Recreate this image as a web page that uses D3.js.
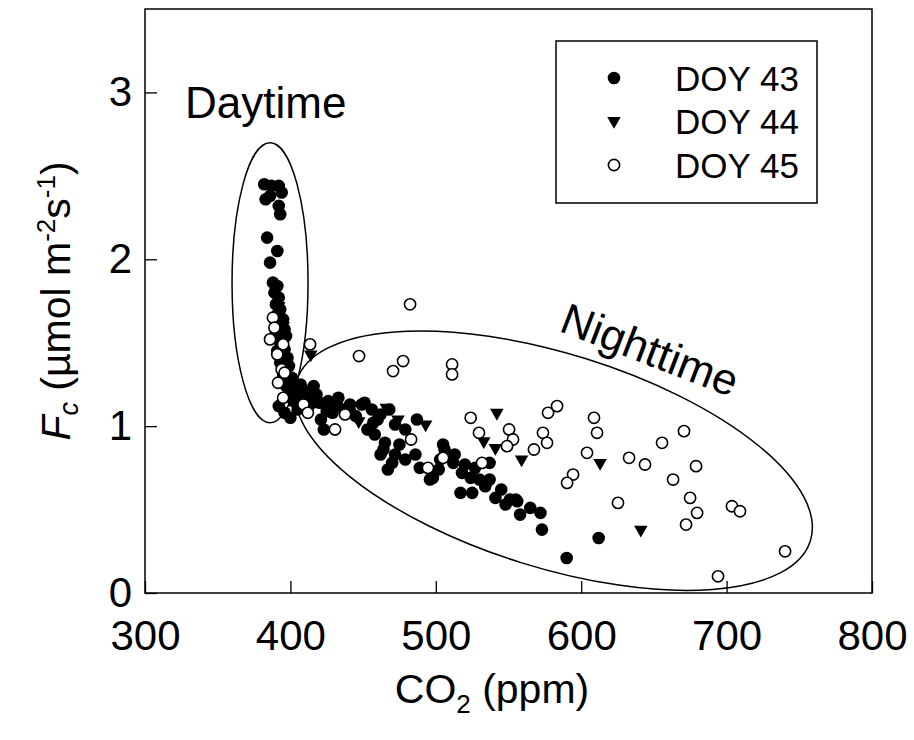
<!DOCTYPE html>
<html>
<head>
<meta charset="utf-8">
<script src="https://cdn.jsdelivr.net/npm/d3@7"></script>
<style>
  body { margin: 0; background: #fff; }
  text { font-family: "Liberation Sans", Arial, sans-serif; fill: #000; }
</style>
</head>
<body>
<svg id="chart" width="914" height="740"></svg>
<script>
// CO2 concentration (ppm) vs. CO2 flux Fc (µmol m-2 s-1), one array per day of year
const doy43 = [
  [382,2.45],[387,2.44],[392,2.44],[394,2.40],[383,2.36],[386,2.38],[392,2.32],[393,2.27],
  [384,2.13],[391,2.05],[386,1.98],[388,1.86],[391,1.84],
  [389,1.80],[392,1.77],[390,1.73],[393,1.70],[391,1.67],[395,1.64],[392,1.61],[396,1.58],
  [390,1.56],[397,1.54],[393,1.50],[396,1.46],[391,1.45],[398,1.41],[393,1.38],[399,1.36],
  [395,1.31],[401,1.29],[397,1.24],[403,1.23],[399,1.20],[405,1.18],[402,1.15],[407,1.25],
  [410,1.21],[413,1.17],[408,1.13],[412,1.11],[416,1.24],[418,1.19],[420,1.14],[421,1.04],
  [423,0.98],[425,1.09],[415,1.14],[392,1.12],[396,1.08],[400,1.05],[405,1.10],
  [426,1.15],[432,1.13],[429,1.08],[437,1.10],[441,1.09],[445,1.06],[449,1.13],[453,0.98],
  [457,1.02],[460,1.04],[465,0.90],[464,0.86],[470,0.78],[487,1.04],[489,0.75],[503,0.80],
  [498,0.69],[506,0.86],[505,0.89],[512,0.78],[518,0.72],[527,0.75],[537,0.78],[530,0.68],
  [537,0.68],[517,0.60],[525,0.60],[541,0.57],[551,0.56],[545,0.62],[534,0.64],[556,0.55],
  [565,0.51],[572,0.48],[573,0.38],[590,0.21],[612,0.33],
  [427,1.14],[433,1.17],[441,1.13],[451,1.14],[456,1.10],[462,1.07],[468,1.10],[472,1.01],
  [479,0.98],[458,0.95],[462,0.83],[467,0.74],[472,0.83],[475,0.89],[479,0.80],[486,0.83],
  [496,0.68],[502,0.74],[513,0.83],[520,0.77],[524,0.69],[534,0.65],[548,0.53],[555,0.56],
  [558,0.47]
];
const doy44 = [
  [414,1.43],[392,1.72],[395,1.60],[398,1.30],[430,1.12],[466,1.11],[474,1.04],[493,1.01],
  [447,1.03],[542,1.08],[541,0.87],[533,0.91],[559,0.80],[613,0.78],[641,0.38]
];
const doy45 = [
  [388,1.65],[389,1.59],[386,1.52],[395,1.49],[391,1.43],[394,1.34],[396,1.32],[391.5,1.26],
  [395,1.17],[409,1.13],[412,1.08],[413.5,1.49],
  [437.6,1.07],[430.7,0.98],[483,0.92],[494.6,0.75],[505,0.81],[531.8,0.78],
  [482.3,1.73],[447.2,1.42],[477.5,1.39],[470.6,1.33],[511.2,1.37],[511.2,1.31],
  [524,1.05],[529.7,0.96],[550.4,0.98],[553.1,0.92],[549,0.88],[573.7,0.96],[576.5,0.90],
  [567.5,0.86],[577.2,1.08],[583.4,1.12],[608.8,1.05],[610.9,0.96],[604,0.84],[594.4,0.71],
  [590.3,0.66],[632.9,0.81],[643.9,0.77],[670.7,0.97],[655.6,0.90],[679,0.76],[663.2,0.68],
  [625.3,0.54],[674.9,0.57],[703.7,0.52],[709.2,0.49],[679.7,0.48],[672.1,0.41],[740.2,0.25],
  [694.1,0.10]
];
const xTicks = [300, 400, 500, 600, 700, 800];
const yTicks = [0, 1, 2, 3];
const legendLabels = ["DOY 43", "DOY 44", "DOY 45"];

const svg = d3.select("#chart");
const plotLeft = 145, plotRight = 872, plotTop = 9, plotBottom = 593;

const x = d3.scaleLinear().domain([300, 800]).range([plotLeft, plotRight]);
const y = d3.scaleLinear().domain([0, 3.5]).range([plotBottom, plotTop]);

// frame
svg.append("rect")
  .attr("x", plotLeft).attr("y", plotTop)
  .attr("width", plotRight - plotLeft).attr("height", plotBottom - plotTop)
  .attr("fill", "none").attr("stroke", "#000").attr("stroke-width", 1.5);

// axes with inward ticks
const xAxis = svg.append("g")
  .attr("transform", `translate(0,${plotBottom})`)
  .call(d3.axisBottom(x).tickValues(xTicks).tickSize(-12).tickSizeOuter(0).tickPadding(27).tickFormat(d3.format("d")));
const yAxis = svg.append("g")
  .attr("transform", `translate(${plotLeft},0)`)
  .call(d3.axisLeft(y).tickValues(yTicks).tickSize(-12).tickSizeOuter(0).tickPadding(13).tickFormat(d3.format("d")));
[xAxis, yAxis].forEach(g => {
  g.select(".domain").remove();
  g.selectAll("line").attr("stroke", "#000").attr("stroke-width", 1.3);
  g.selectAll("text").attr("font-size", 42).attr("font-family", "Liberation Sans, Arial, sans-serif").attr("fill", "#000");
});

// axis titles
const xt = svg.append("text").attr("x", 492).attr("y", 703)
  .attr("text-anchor", "middle").attr("font-size", 41);
xt.append("tspan").text("CO");
xt.append("tspan").text("2").attr("font-size", 26).attr("dy", 10);
xt.append("tspan").text(" (ppm)").attr("dy", -10);

const yt = svg.append("text")
  .attr("transform", `translate(70,${(plotTop + plotBottom) / 2}) rotate(-90)`)
  .attr("text-anchor", "middle").attr("font-size", 41);
yt.append("tspan").text("F").attr("font-style", "italic");
yt.append("tspan").text("c").attr("font-style", "italic").attr("font-size", 27).attr("dy", 8);
yt.append("tspan").text(" (µmol m").attr("dy", -8);
yt.append("tspan").text("-2").attr("font-size", 26).attr("dy", -15);
yt.append("tspan").text("s").attr("dy", 15);
yt.append("tspan").text("-1").attr("font-size", 26).attr("dy", -15);
yt.append("tspan").text(")").attr("dy", 15);

// outlines of the daytime and nighttime groups
const dayCenter = [386, 1.86];
svg.append("ellipse")
  .attr("cx", x(dayCenter[0])).attr("cy", y(dayCenter[1]))
  .attr("rx", 38).attr("ry", 140)
  .attr("fill", "none").attr("stroke", "#000").attr("stroke-width", 1.5);
const nightCenter = [581, 0.793];
svg.append("ellipse")
  .attr("transform", `translate(${x(nightCenter[0])},${y(nightCenter[1])}) rotate(17.3)`)
  .attr("rx", 269).attr("ry", 107)
  .attr("fill", "none").attr("stroke", "#000").attr("stroke-width", 1.5);

svg.append("text").attr("x", 185).attr("y", 118).attr("font-size", 44).text("Daytime");
svg.append("text")
  .attr("transform", "translate(650,350) rotate(21)")
  .attr("text-anchor", "middle").attr("y", 15).attr("font-size", 44).text("Nighttime");

// markers
const tri = d3.symbol(d3.symbolTriangle, 80)();
function drawFilled(g) { g.append("circle").attr("r", 6.3).attr("fill", "#000"); }
function drawTri(g) { g.append("path").attr("d", tri).attr("transform", "rotate(180)").attr("fill", "#000"); }
function drawOpen(g) { g.append("circle").attr("r", 5.6).attr("fill", "#fff").attr("stroke", "#000").attr("stroke-width", 1.6); }
const drawers = [drawFilled, drawTri, drawOpen];
[doy43, doy44, doy45].forEach((series, i) => {
  svg.append("g").selectAll("g").data(series).join("g")
    .attr("transform", d => `translate(${x(d[0])},${y(d[1])})`)
    .each(function () { drawers[i](d3.select(this)); });
});

// legend
const lg = svg.append("g");
lg.append("rect").attr("x", 556).attr("y", 41).attr("width", 261).attr("height", 162)
  .attr("fill", "#fff").attr("stroke", "#000").attr("stroke-width", 1.5);
const legendY = [78, 121, 165];
legendLabels.forEach((lab, i) => {
  const g = lg.append("g").attr("transform", `translate(614,${legendY[i]})`);
  drawers[i](g);
  lg.append("text").attr("x", 675).attr("y", legendY[i] + 13).attr("font-size", 35).text(lab);
});
</script>
</body>
</html>
